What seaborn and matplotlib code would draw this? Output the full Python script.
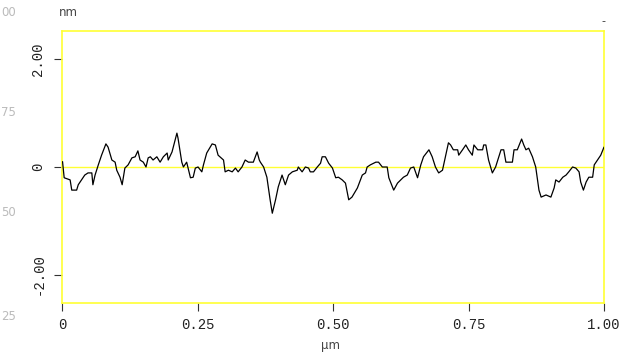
import matplotlib
matplotlib.use("Agg")
import matplotlib.pyplot as plt
import seaborn as sns
import pandas as pd

# Profile data: position (µm) and height (nm)
position_um = [0.001, 0.004, 0.015, 0.018, 0.027, 0.030, 0.036, 0.042, 0.048, 0.055,
               0.057, 0.061, 0.067, 0.073, 0.081, 0.085, 0.092, 0.098, 0.101, 0.107,
               0.111, 0.116, 0.122, 0.129, 0.135, 0.140, 0.144, 0.150, 0.155, 0.159,
               0.163, 0.168, 0.175, 0.181, 0.187, 0.194, 0.196, 0.203, 0.212, 0.214,
               0.221, 0.224, 0.230, 0.237, 0.242, 0.246, 0.251, 0.258, 0.261, 0.267,
               0.277, 0.283, 0.288, 0.298, 0.301, 0.307, 0.314, 0.320, 0.325, 0.332,
               0.338, 0.344, 0.353, 0.360, 0.364, 0.366, 0.372, 0.378, 0.384, 0.388,
               0.394, 0.399, 0.406, 0.409, 0.412, 0.418, 0.425, 0.434, 0.436, 0.443,
               0.449, 0.455, 0.458, 0.464, 0.471, 0.477, 0.480, 0.486, 0.492, 0.499,
               0.505, 0.510, 0.517, 0.523, 0.529, 0.535, 0.545, 0.554, 0.560, 0.563,
               0.569, 0.575, 0.579, 0.584, 0.591, 0.600, 0.603, 0.612, 0.619, 0.625,
               0.630, 0.637, 0.643, 0.649, 0.656, 0.662, 0.667, 0.677, 0.683, 0.689,
               0.695, 0.702, 0.708, 0.713, 0.717, 0.722, 0.730, 0.732, 0.739, 0.745,
               0.750, 0.757, 0.760, 0.767, 0.776, 0.778, 0.782, 0.787, 0.794, 0.800,
               0.810, 0.815, 0.819, 0.831, 0.834, 0.840, 0.848, 0.852, 0.856, 0.861,
               0.868, 0.874, 0.880, 0.884, 0.893, 0.902, 0.908, 0.911, 0.917, 0.924,
               0.930, 0.935, 0.942, 0.948, 0.954, 0.957, 0.962, 0.967, 0.972, 0.979,
               0.982, 0.988, 0.994, 1.000]
height_nm = [0.10, -0.20, -0.24, -0.43, -0.43, -0.33, -0.24, -0.15, -0.11, -0.11,
             -0.33, -0.15, 0.04, 0.22, 0.43, 0.37, 0.13, 0.09, -0.06, -0.19,
             -0.33, -0.02, 0.04, 0.17, 0.19, 0.30, 0.13, 0.09, 0.00, 0.17,
             0.19, 0.13, 0.19, 0.09, 0.19, 0.26, 0.13, 0.28, 0.63, 0.54,
             0.09, 0.00, 0.09, -0.20, -0.19, -0.02, 0.00, -0.09, 0.04, 0.26,
             0.43, 0.41, 0.22, 0.13, -0.09, -0.06, -0.09, -0.02, -0.09, 0.00,
             0.13, 0.09, 0.09, 0.28, 0.13, 0.09, 0.00, -0.19, -0.61, -0.86,
             -0.61, -0.37, -0.15, -0.24, -0.33, -0.15, -0.09, -0.06, 0.00, -0.09,
             0.00, -0.02, -0.09, -0.09, 0.00, 0.07, 0.19, 0.19, 0.07, -0.02,
             -0.20, -0.19, -0.24, -0.30, -0.61, -0.56, -0.39, -0.15, -0.11, 0.00,
             0.04, 0.07, 0.09, 0.09, 0.00, 0.00, -0.20, -0.43, -0.30, -0.24,
             -0.19, -0.15, -0.02, 0.00, -0.20, 0.04, 0.19, 0.32, 0.19, 0.00,
             -0.11, -0.06, 0.22, 0.45, 0.41, 0.32, 0.32, 0.22, 0.32, 0.41,
             0.32, 0.22, 0.41, 0.32, 0.32, 0.41, 0.41, 0.13, -0.11, 0.00,
             0.32, 0.32, 0.09, 0.09, 0.32, 0.32, 0.52, 0.41, 0.32, 0.35,
             0.19, 0.00, -0.43, -0.56, -0.52, -0.56, -0.39, -0.24, -0.28, -0.19,
             -0.15, -0.09, 0.00, -0.02, -0.09, -0.28, -0.43, -0.28, -0.19, -0.19,
             0.04, 0.13, 0.22, 0.37]

x_ticks = [0, 0.25, 0.5, 0.75, 1.0]
x_tick_labels = ["0", "0.25", "0.50", "0.75", "1.00"]
y_ticks = [-2.0, 0, 2.0]
y_tick_labels = ["-2.00", "0", "2.00"]
ghost_labels = ["00", "75", "50", "25"]

sns.set_style("white")
plt.rcParams["font.family"] = ["DejaVu Sans"]

df = pd.DataFrame({"x": position_um, "h": height_nm})

fig = plt.figure(figsize=(6.31, 3.57), dpi=100)
W, H = 631, 357
ax = fig.add_axes([62 / W, 1 - 303 / H, 542 / W, 272 / H])

yellow = "#ffff33"
ax.axhline(0, color=yellow, lw=1.0, zorder=1)
sns.lineplot(data=df, x="x", y="h", ax=ax, color="black", lw=0.9,
             estimator=None, sort=False, zorder=3)

ax.set_xlim(0, 1.0)
ax.set_ylim(-2.53, 2.53)
for s in ax.spines.values():
    s.set_color(yellow)
    s.set_linewidth(1.2)

mono = "Liberation Mono"
ax.set_xticks(x_ticks)
ax.set_xticklabels(x_tick_labels, fontfamily=mono, fontsize=10, color="#222222")
ax.set_yticks(y_ticks)
ax.set_yticklabels(y_tick_labels, fontfamily=mono, fontsize=10, color="#222222",
                   rotation=90, va="center")
ax.tick_params(axis="both", which="major", direction="out", length=6, width=0.8,
               color="#333333", left=True, bottom=True)
ax.tick_params(axis="x", pad=5)
ax.tick_params(axis="y", pad=6)
ax.set_xlabel("")
ax.set_ylabel("")

fig.text(68 / W, 1 - 13 / H, "nm", fontsize=8.5, color="#444444", ha="center", va="center")
fig.text(331 / W, 1 - 345 / H, "µm", fontsize=8.5, color="#444444", ha="center", va="center")
fig.text(603 / W, 1 - 21 / H, "-", fontsize=8, color="#333333", ha="center", va="center")

ghost_y = [12, 112, 212, 316]
for lab, gy in zip(ghost_labels, ghost_y):
    fig.text(1 / W, 1 - gy / H, lab, fontsize=8.5, color="#bbbbbb", ha="left", va="center")

fig.savefig("out.png", dpi=100, facecolor="white")
